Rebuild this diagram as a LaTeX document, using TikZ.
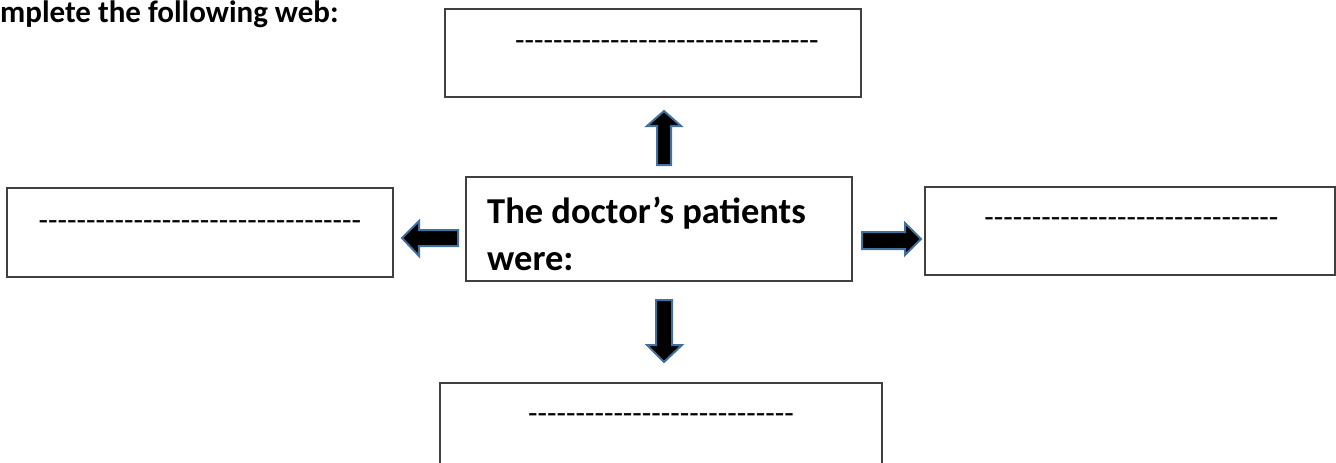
\documentclass[tikz,border=0pt]{standalone}
\usepackage{fontspec}
\setmainfont{Carlito}
\definecolor{boxline}{HTML}{404040}
\definecolor{arrowline}{HTML}{41719C}
\newcommand\dashline[1]{\foreach\i in {1,...,#1}{-\kern0pt}}
\begin{document}
\begin{tikzpicture}[x=1pt,y=-1pt,
  webbox/.style={draw=boxline,line width=1.4pt,fill=white},
  blank/.style={font=\fontsize{31}{37}\selectfont,inner sep=0pt,anchor=base},
  blockarrow/.style={fill=black,draw=arrowline,line width=2pt,line join=miter}]
\useasboundingbox (0,0) rectangle (1336,463);
% title
\node[font=\bfseries\fontsize{31}{37}\selectfont,inner sep=0pt,anchor=base west] (title) at (0,23) {mplete the following web:};
% boxes
\draw[webbox] (445,9) rectangle (861,97);
\draw[webbox] (7,188) rectangle (393,277);
\draw[webbox] (466,177) rectangle (852,281);
\draw[webbox] (925,187) rectangle (1335,275);
\draw[boxline,line width=1.4pt] (440,470) -- (440,383) -- (882,383) -- (882,470);
% blanks
\node[blank] (topblank) at (667,50) {\dashline{32}};
\node[blank] (leftblank) at (200,230) {\dashline{34}};
\node[blank] (rightblank) at (1131.5,227) {\dashline{31}};
\node[blank] (bottomblank) at (661,423) {\dashline{28}};
% center text
\node[font=\bfseries\fontsize{36.5}{47}\selectfont,inner sep=0pt,anchor=base west,align=left] (center) at (487,270) {The doctor’s patients\\were:};
% arrows
\filldraw[blockarrow] (664,111) -- (681,126) -- (671,126) -- (671,165) -- (657,165) -- (657,126) -- (647,126) -- cycle;
\filldraw[blockarrow] (664,362) -- (682,345) -- (672,345) -- (672,300) -- (656,300) -- (656,345) -- (647,345) -- cycle;
\filldraw[blockarrow] (402,238) -- (419,221) -- (419,230) -- (458,230) -- (458,246) -- (419,246) -- (419,256) -- cycle;
\filldraw[blockarrow] (921,239) -- (905,223) -- (905,232) -- (862,232) -- (862,249) -- (905,249) -- (905,255) -- cycle;
\end{tikzpicture}
\end{document}
